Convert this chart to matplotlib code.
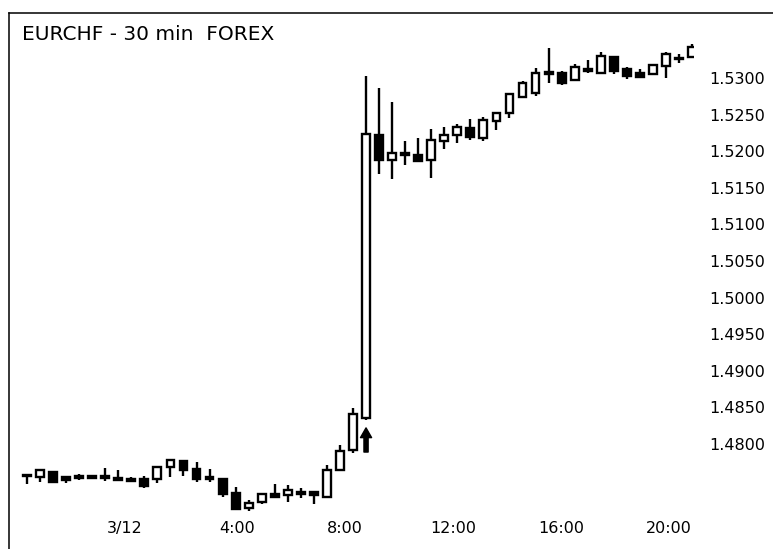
import matplotlib

matplotlib.use("Agg")
import matplotlib.pyplot as plt
from matplotlib.lines import Line2D
from matplotlib.patches import Rectangle

title = "EURCHF - 30 min  FOREX"

# 30 minute candles
opens = [1.4757, 1.4755, 1.4762, 1.4755, 1.4755, 1.4756, 1.4755, 1.4752, 1.4752, 1.4752,
         1.4752, 1.4769, 1.4777, 1.4766, 1.4755, 1.4752, 1.4733, 1.4713, 1.4721, 1.4732,
         1.4730, 1.4733, 1.4734, 1.4728, 1.4764, 1.4792, 1.4836, 1.5222, 1.5188, 1.5196,
         1.5195, 1.5188, 1.5214, 1.5222, 1.5232, 1.5218, 1.5241, 1.5252, 1.5274, 1.5280,
         1.5308, 1.5307, 1.5297, 1.5312, 1.5307, 1.5329, 1.5312, 1.5307, 1.5306, 1.5316,
         1.5326, 1.5329]
highs = [1.4757, 1.4765, 1.4763, 1.4756, 1.4759, 1.4757, 1.4767, 1.4764, 1.4755, 1.4756,
         1.4770, 1.4778, 1.4778, 1.4775, 1.4766, 1.4754, 1.4741, 1.4724, 1.4733, 1.4745,
         1.4744, 1.4740, 1.4735, 1.4771, 1.4799, 1.4849, 1.5303, 1.5286, 1.5267, 1.5214,
         1.5218, 1.5230, 1.5233, 1.5237, 1.5244, 1.5247, 1.5254, 1.5280, 1.5296, 1.5314,
         1.5341, 1.5310, 1.5319, 1.5325, 1.5335, 1.5330, 1.5315, 1.5312, 1.5319, 1.5335,
         1.5333, 1.5346]
lows = [1.4745, 1.4748, 1.4747, 1.4747, 1.4751, 1.4753, 1.4750, 1.4750, 1.4748, 1.4740,
        1.4747, 1.4755, 1.4756, 1.4748, 1.4748, 1.4728, 1.4710, 1.4709, 1.4718, 1.4727,
        1.4721, 1.4726, 1.4718, 1.4727, 1.4763, 1.4788, 1.4833, 1.5169, 1.5162, 1.5181,
        1.5186, 1.5163, 1.5203, 1.5211, 1.5215, 1.5214, 1.5229, 1.5245, 1.5273, 1.5275,
        1.5293, 1.5290, 1.5296, 1.5307, 1.5306, 1.5306, 1.5298, 1.5301, 1.5304, 1.5300,
        1.5321, 1.5329]
closes = [1.4756, 1.4764, 1.4748, 1.4751, 1.4754, 1.4754, 1.4754, 1.4751, 1.4750, 1.4743,
          1.4769, 1.4778, 1.4764, 1.4752, 1.4752, 1.4732, 1.4711, 1.4719, 1.4732, 1.4728,
          1.4737, 1.4732, 1.4730, 1.4764, 1.4790, 1.4841, 1.5223, 1.5188, 1.5198, 1.5195,
          1.5187, 1.5215, 1.5222, 1.5233, 1.5219, 1.5243, 1.5252, 1.5278, 1.5293, 1.5307,
          1.5305, 1.5293, 1.5315, 1.5309, 1.5330, 1.5310, 1.5303, 1.5302, 1.5318, 1.5333,
          1.5327, 1.5343]

xtick_pos = [7.5, 16.1, 24.4, 32.7, 41.0, 49.2]
xtick_labels = ["3/12", "4:00", "8:00", "12:00", "16:00", "20:00"]
ytick_vals = [1.4800, 1.4850, 1.4900, 1.4950, 1.5000, 1.5050,
              1.5100, 1.5150, 1.5200, 1.5250, 1.5300]

# up arrow under the jump candle
arrow_idx = 26
arrow_tail = 1.4789
arrow_head = 1.4822

W, H = 773, 549
fig = plt.figure(figsize=(W / 100, H / 100), dpi=100)
ax = fig.add_axes([9 / W, 34 / H, 685 / W, 502 / H])

body_w = 0.6
for i, (o, h, l, c) in enumerate(zip(opens, highs, lows, closes)):
    ax.vlines(i, l, h, color="black", lw=1.7, zorder=1)
    bottom = min(o, c)
    height = max(abs(c - o), 0.0002)
    face = "white" if c > o else "black"
    ax.add_patch(Rectangle((i - body_w / 2, bottom), body_w, height,
                           facecolor=face, edgecolor="black", lw=1.7, zorder=2))

ax.annotate("", xy=(arrow_idx, arrow_head), xytext=(arrow_idx, arrow_tail),
            arrowprops=dict(facecolor="black", edgecolor="black", width=3,
                            headwidth=8, headlength=7, shrink=0))

ax.set_xlim(-1.38, 51.15)
ax.set_ylim(1.47030, 1.53888)
for s in ax.spines.values():
    s.set_visible(False)

ax.yaxis.tick_right()
ax.set_yticks(ytick_vals)
ax.set_yticklabels([f"{v:.4f}" for v in ytick_vals])
ax.set_xticks(xtick_pos)
ax.set_xticklabels(xtick_labels)
ax.tick_params(axis="y", length=0, pad=10.8, labelsize=11.5)
ax.tick_params(axis="x", length=0, pad=4, labelsize=11.5)

# outer frame (top and left only are visible)
fig.add_artist(Line2D([9 / W, 9 / W], [0, 1 - 13 / H], transform=fig.transFigure,
                      color="black", lw=1.1))
fig.add_artist(Line2D([9 / W, 1], [1 - 13 / H, 1 - 13 / H], transform=fig.transFigure,
                      color="black", lw=1.1))

fig.text(22 / W, 1 - 35 / H, title, ha="left", va="center", fontsize=14.5)

fig.savefig("out.png", dpi=100)
